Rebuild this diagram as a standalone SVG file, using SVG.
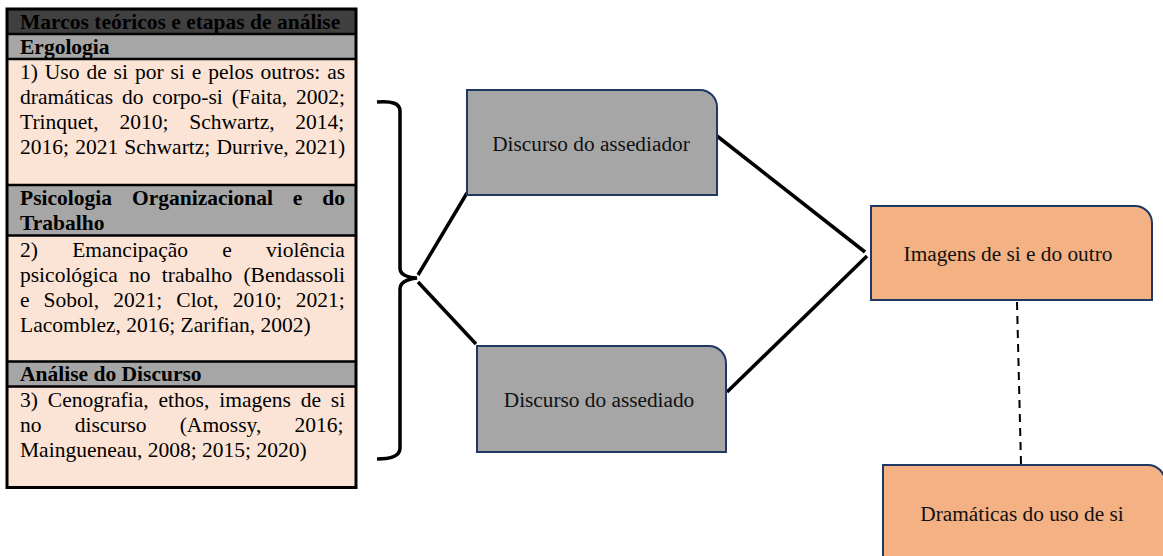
<svg xmlns="http://www.w3.org/2000/svg" width="1163" height="556" viewBox="0 0 1163 556">
  <style>
    .t { font-family: "Liberation Serif", "Times New Roman", serif; font-size: 21.5px; fill: #000; }
    .b { font-weight: bold; }
    .hd { fill: #404040; }
    .sub { fill: #a6a6a6; }
    .body { fill: #fbe4d5; }
    .rowline { stroke: #000; stroke-width: 2.5; }
    .node-g { fill: #a6a6a6; stroke: #1f3864; stroke-width: 2; }
    .node-o { fill: #f4b183; stroke: #1f3864; stroke-width: 2; }
    .nt { font-family: "Liberation Serif", "Times New Roman", serif; font-size: 21.3px; fill: #111; text-anchor: middle; }
    .conn { stroke: #000; stroke-width: 3.5; fill: none; }
    .dash { stroke: #000; stroke-width: 2; stroke-dasharray: 8 6; fill: none; }
  </style>

  <g id="table">
    <rect class="hd" x="7" y="9" width="349" height="25"/>
    <rect class="sub" x="7" y="34" width="349" height="25"/>
    <rect class="body" x="7" y="59" width="349" height="126"/>
    <rect class="sub" x="7" y="185" width="349" height="50.5"/>
    <rect class="body" x="7" y="235.5" width="349" height="126"/>
    <rect class="sub" x="7" y="361.5" width="349" height="25"/>
    <rect class="body" x="7" y="386.5" width="349" height="101"/>
    <line class="rowline" x1="7" y1="34" x2="356" y2="34"/>
    <line class="rowline" x1="7" y1="59" x2="356" y2="59"/>
    <line class="rowline" x1="7" y1="185" x2="356" y2="185"/>
    <line class="rowline" x1="7" y1="235.5" x2="356" y2="235.5"/>
    <line class="rowline" x1="7" y1="361.5" x2="356" y2="361.5"/>
    <line class="rowline" x1="7" y1="386.5" x2="356" y2="386.5"/>
    <rect x="7" y="9" width="349" height="478.5" fill="none" stroke="#000" stroke-width="3"/>

    <text class="t b" x="20" y="28.5" fill="#111">Marcos teóricos e etapas de análise</text>
    <text class="t b" x="20" y="53.5">Ergologia</text>

    <text class="t" x="20" y="78.5" word-spacing="1.55">1) Uso de si por si e pelos outros: as</text>
    <text class="t" x="20" y="103.7" word-spacing="3.5">dramáticas do corpo-si (Faita, 2002;</text>
    <text class="t" x="20" y="128.9" word-spacing="15.4">Trinquet, 2010; Schwartz, 2014;</text>
    <text class="t" x="20" y="154.1" word-spacing="0.8">2016; 2021 Schwartz; Durrive, 2021)</text>

    <text class="t b" x="20" y="205" word-spacing="14.6">Psicologia Organizacional e do</text>
    <text class="t b" x="20" y="230.2">Trabalho</text>

    <text class="t" x="20" y="256.5" word-spacing="28.9">2) Emancipação e violência</text>
    <text class="t" x="20" y="281.8" word-spacing="5.8">psicológica no trabalho (Bendassoli</text>
    <text class="t" x="20" y="307" word-spacing="8.7">e Sobol, 2021; Clot, 2010; 2021;</text>
    <text class="t" x="20" y="332.2">Lacomblez, 2016; Zarifian, 2002)</text>

    <text class="t b" x="20" y="381">Análise do Discurso</text>

    <text class="t" x="20" y="406.5" word-spacing="4.5">3) Cenografia, ethos, imagens de si</text>
    <text class="t" x="20" y="431.7" word-spacing="27.9">no discurso (Amossy, 2016;</text>
    <text class="t" x="20" y="456.9">Maingueneau, 2008; 2015; 2020)</text>
  </g>

  <g id="connectors">
    <path class="conn" d="M377,102 Q400,100 400,111 L400,268 Q400,277 417,278 Q400,280 400,289 L400,448 Q400,459 377,459"/>
    <line class="conn" x1="418" y1="275" x2="467" y2="193"/>
    <line class="conn" x1="418" y1="282" x2="476" y2="344"/>
    <line class="conn" x1="717" y1="136" x2="865" y2="252"/>
    <line class="conn" x1="727" y1="392" x2="867" y2="256"/>
    <line class="dash" x1="1017" y1="302" x2="1021" y2="464"/>
  </g>

  <g id="node-assediador">
    <path class="node-g" d="M467,90 H700 A17,17 0 0 1 717,107 V195 H467 Z"/>
    <text class="nt" x="591" y="151">Discurso do assediador</text>
  </g>
  <g id="node-assediado">
    <path class="node-g" d="M477,346 H709 A17,17 0 0 1 726,363 V452 H477 Z"/>
    <text class="nt" x="599" y="407">Discurso do assediado</text>
  </g>
  <g id="node-imagens">
    <path class="node-o" d="M871,206 H1135 A17,17 0 0 1 1152,223 V300 H871 Z"/>
    <text class="nt" x="1008" y="261">Imagens de si e do outro</text>
  </g>
  <g id="node-dramaticas">
    <path class="node-o" d="M883,465 H1148 A17,17 0 0 1 1165,482 V575 H883 Z"/>
    <text class="nt" x="1022" y="521">Dramáticas do uso de si</text>
  </g>
</svg>
